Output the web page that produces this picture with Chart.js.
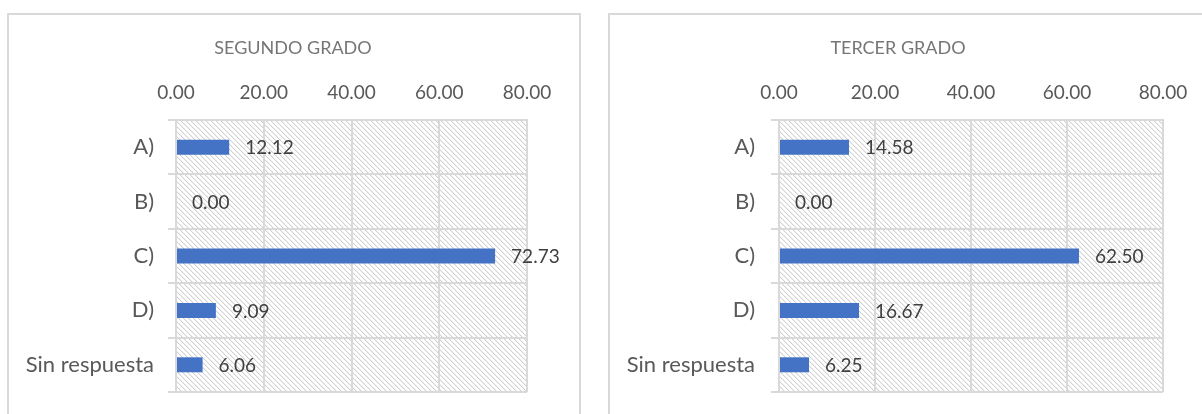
<!DOCTYPE html>
<html>
<head>
<meta charset="utf-8">
<script src="https://cdn.jsdelivr.net/npm/chart.js@4/dist/chart.umd.min.js"></script>
<style>
  html, body { margin:0; padding:0; background:#ffffff; width:1202px; height:414px; overflow:hidden; }
  .panel { position:absolute; box-sizing:border-box; border:2px solid #d9d9d9; background:#fff; }
  #p1 { left:7px; top:13px; width:574px; height:460px; }
  #p2 { left:608px; top:13px; width:700px; height:460px; }
  .wrap { position:absolute; top:0; height:414px; }
  #w1 { left:0; width:586px; }
  #w2 { left:598px; width:600px; }
</style>
</head>
<body>
<div class="panel" id="p1"></div>
<div class="panel" id="p2"></div>
<div class="wrap" id="w1"><canvas id="c1" width="586" height="414"></canvas></div>
<div class="wrap" id="w2"><canvas id="c2" width="600" height="414"></canvas></div>
<script>
// ---- Data ----
const categories = ['A)', 'B)', 'C)', 'D)', 'Sin respuesta'];
const segundoValues = [12.12, 0.00, 72.73, 9.09, 6.06];
const tercerValues = [14.58, 0.00, 62.50, 16.67, 6.25];
const segundoTitle = 'SEGUNDO GRADO';
const tercerTitle = 'TERCER GRADO';
const axisTicks = [0, 20, 40, 60, 80];

const FONT = "Lato, 'Open Sans', sans-serif";
const GRID = '#d9d9d9';

function makeHatch() {
  const n = 5;
  const t = document.createElement('canvas');
  t.width = n; t.height = n;
  const g = t.getContext('2d');
  g.fillStyle = '#ffffff';
  g.fillRect(0, 0, n, n);
  for (let i = 0; i < n; i++) {
    g.fillStyle = '#d0d0d0';
    g.fillRect(i, i, 1, 1);
    g.fillStyle = '#f1f1f1';
    g.fillRect((i + 1) % n, i, 1, 1);
  }
  return t;
}

const hatchPlugin = {
  id: 'hatchBg',
  beforeDraw(chart) {
    const { ctx, chartArea: a } = chart;
    ctx.save();
    ctx.fillStyle = ctx.createPattern(makeHatch(), 'repeat');
    ctx.fillRect(a.left, a.top, a.right - a.left, a.bottom - a.top);
    ctx.restore();
  }
};

const labelPlugin = {
  id: 'valueLabels',
  afterDatasetsDraw(chart) {
    const { ctx } = chart;
    const meta = chart.getDatasetMeta(0);
    const vals = chart.data.datasets[0].data;
    ctx.save();
    ctx.font = '19px ' + FONT;
    ctx.fillStyle = '#404040';
    ctx.textAlign = 'left';
    ctx.textBaseline = 'middle';
    meta.data.forEach((bar, i) => {
      ctx.fillText(vals[i].toFixed(2), bar.x + 16, bar.y + 1);
    });
    ctx.restore();
  }
};

function noPad(scale) {
  scale.paddingTop = 0; scale.paddingBottom = 0;
  scale.paddingLeft = 0; scale.paddingRight = 0;
}

function build(id, title, values, yWidth, padRight, yPad) {
  new Chart(document.getElementById(id), {
    type: 'bar',
    data: {
      labels: categories,
      datasets: [{
        data: values,
        backgroundColor: '#4472C4',
        borderWidth: 0,
        inflateAmount: 0,
        barThickness: 15
      }]
    },
    options: {
      indexAxis: 'y',
      responsive: false,
      animation: false,
      events: [],
      layout: { padding: { left: 0, right: 0, top: 0, bottom: 22 } },
      plugins: {
        legend: { display: false },
        tooltip: { enabled: false },
        title: {
          display: true,
          text: title,
          color: '#767676',
          font: { family: FONT, size: 18, weight: 'normal', lineHeight: 1.2 },
          padding: { top: 37, bottom: 0 }
        }
      },
      scales: {
        x: {
          position: 'top',
          min: axisTicks[0],
          max: axisTicks[axisTicks.length - 1],
          afterBuildTicks(scale) { scale.ticks = axisTicks.map(v => ({ value: v })); },
          afterFit(scale) { scale.height = 120 - 37 - 21.6; noPad(scale); },
          ticks: {
            color: '#595959',
            font: { family: FONT, size: 19 },
            padding: 16,
            maxRotation: 0,
            callback: v => Number(v).toFixed(2)
          },
          grid: { color: GRID, lineWidth: 2, drawTicks: false },
          border: { display: true, color: GRID, width: 2 }
        },
        y: {
          afterFit(scale) { scale.width = yWidth; noPad(scale); },
          ticks: {
            color: '#595959',
            font: { family: FONT, size: 22 },
            padding: yPad
          },
          grid: { color: GRID, lineWidth: 2, drawTicks: true, tickLength: 8, offset: true },
          border: { display: true, color: GRID, width: 2 }
        },
        spacer: {
          type: 'linear',
          position: 'right',
          display: true,
          afterFit(scale) { scale.width = padRight; noPad(scale); },
          ticks: { display: false },
          grid: { display: false, drawTicks: false },
          border: { display: false }
        }
      }
    },
    plugins: [hatchPlugin, labelPlugin]
  });
}

build('c1', segundoTitle, segundoValues, 176, 59, 14);
build('c2', tercerTitle, tercerValues, 181, 35, 16);
</script>
</body>
</html>
